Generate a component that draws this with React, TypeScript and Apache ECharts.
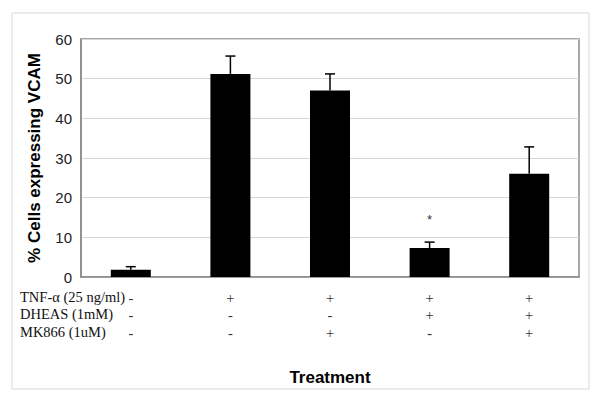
import React, { useEffect, useRef } from "react";
import * as echarts from "echarts";

const groups = ["G1", "G2", "G3", "G4", "G5"];
const meanValues = [1.8, 51.2, 47.0, 7.3, 26.0];
const errorValues = [0.8, 4.5, 4.2, 1.5, 6.8];
const significance = ["", "", "", "*", ""];
const tnfRow = ["-", "+", "+", "+", "+"];
const dheasRow = ["-", "-", "-", "+", "+"];
const mk866Row = ["-", "-", "+", "-", "+"];
const rowLabels = ["TNF-\u03b1 (25 ng/ml)", "DHEAS (1mM)", "MK866 (1uM)"];
const yTicks = { min: 0, max: 60, interval: 10 };

export default function App() {
  const ref = useRef<HTMLDivElement>(null);
  useEffect(() => {
    document.body.style.margin = "0";
    const chart = echarts.init(ref.current!, null, { renderer: "svg" });
    const sans = "Liberation Sans, Arial, sans-serif";
    const serif = "Liberation Serif, Times New Roman, serif";
    const errData = meanValues.map((v, i) => [i, v, v + errorValues[i]]);
    chart.setOption({
      animation: false,
      backgroundColor: "#ffffff",
      grid: {
        left: 81,
        right: 21,
        top: 39,
        bottom: 124,
        show: true,
        borderColor: "#8a8a8a",
        borderWidth: 1.5,
        backgroundColor: "transparent",
      },
      xAxis: {
        type: "category",
        data: groups,
        name: "Treatment",
        nameLocation: "middle",
        nameGap: 92,
        nameTextStyle: { fontFamily: sans, fontWeight: "bold", fontSize: 17, color: "#000" },
        axisLine: { lineStyle: { color: "#8a8a8a", width: 1.5 } },
        axisTick: { show: false },
        axisLabel: {
          margin: 12,
          fontFamily: serif,
          fontSize: 14.5,
          lineHeight: 17.5,
          color: "#333",
          formatter: (_v: string, i: number) => [tnfRow[i], dheasRow[i], mk866Row[i]].join("\n"),
        },
      },
      yAxis: {
        type: "value",
        min: yTicks.min,
        max: yTicks.max,
        interval: yTicks.interval,
        name: "% Cells expressing VCAM",
        nameLocation: "middle",
        nameGap: 38,
        nameTextStyle: { fontFamily: sans, fontWeight: "bold", fontSize: 17, color: "#000" },
        axisLine: { show: true, lineStyle: { color: "#8a8a8a", width: 1.5 } },
        axisTick: { show: false },
        axisLabel: { fontFamily: sans, fontSize: 15, color: "#222", margin: 9 },
        splitLine: { lineStyle: { color: "#d6d6d6", width: 1 } },
      },
      series: [
        {
          type: "bar",
          data: meanValues,
          barWidth: 40,
          itemStyle: { color: "#000" },
          z: 2,
        },
        {
          type: "custom",
          data: errData,
          z: 3,
          renderItem: (params: any, api: any) => {
            const x = api.value(0);
            const p0 = api.coord([x, api.value(1)]);
            const p1 = api.coord([x, api.value(2)]);
            const children: any[] = [
              {
                type: "line",
                shape: { x1: p0[0], y1: p0[1], x2: p1[0], y2: p1[1] },
                style: { stroke: "#000", lineWidth: 1.5 },
              },
              {
                type: "line",
                shape: { x1: p1[0] - 5, y1: p1[1], x2: p1[0] + 5, y2: p1[1] },
                style: { stroke: "#000", lineWidth: 1.5 },
              },
            ];
            const s = significance[params.dataIndex];
            if (s) {
              children.push({
                type: "text",
                x: p1[0],
                y: p1[1] - 23,
                style: {
                  text: s,
                  fontFamily: sans,
                  fontSize: 13,
                  fill: "#333",
                  align: "center",
                  verticalAlign: "middle",
                },
              });
            }
            return { type: "group", children };
          },
        },
      ],
      graphic: [
        {
          type: "rect",
          shape: { x: 12, y: 13, width: 577, height: 376 },
          style: { fill: "none", stroke: "#d9d9d9", lineWidth: 1 },
          silent: true,
        },
        ...rowLabels.map((t, i) => ({
          type: "text",
          left: 20,
          top: 289 + i * 17.5,
          style: { text: t, fontFamily: serif, fontSize: 14.5, fill: "#111" },
        })),
      ],
    });
    return () => chart.dispose();
  }, []);
  return <div ref={ref} style={{ width: 600, height: 401 }} />;
}
